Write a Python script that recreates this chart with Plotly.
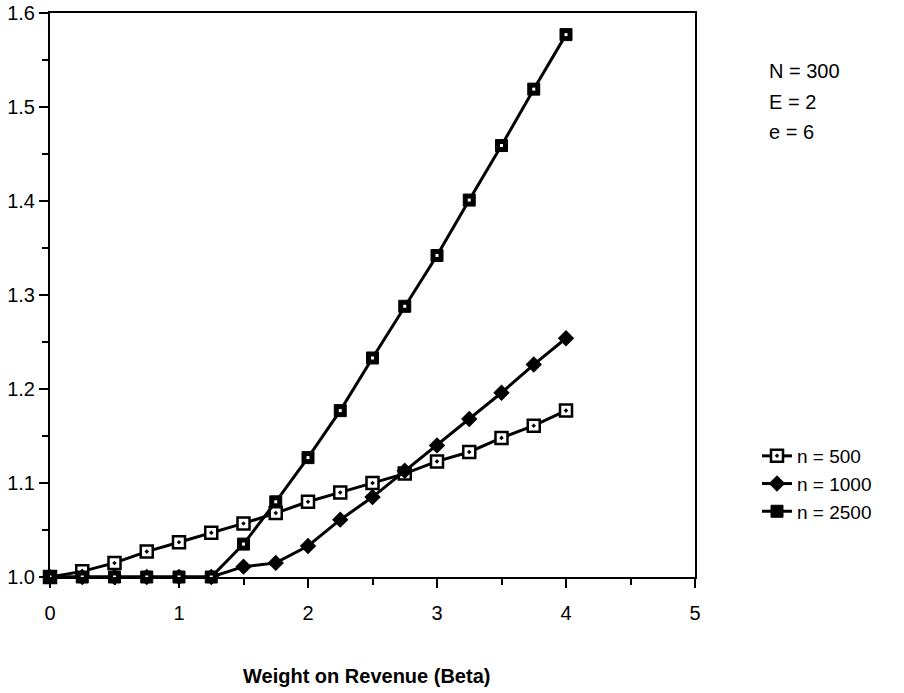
import plotly.graph_objects as go

# Weight on revenue (beta) values
beta = [0, 0.25, 0.5, 0.75, 1.0, 1.25, 1.5, 1.75, 2.0, 2.25, 2.5, 2.75, 3.0, 3.25, 3.5, 3.75, 4.0]

# Ratio for each sample size n
n500 = [1.000, 1.006, 1.015, 1.027, 1.037, 1.047, 1.057, 1.068, 1.080, 1.090, 1.100, 1.110, 1.123, 1.133, 1.148, 1.161, 1.177]
n1000 = [1.000, 1.000, 1.000, 1.000, 1.000, 1.000, 1.011, 1.015, 1.033, 1.061, 1.085, 1.113, 1.140, 1.168, 1.196, 1.226, 1.254]
n2500 = [1.000, 1.000, 1.000, 1.000, 1.000, 1.000, 1.035, 1.080, 1.127, 1.177, 1.233, 1.288, 1.342, 1.401, 1.459, 1.519, 1.577]

series_names = ["n = 500", "n = 1000", "n = 2500"]
param_lines = ["N = 300", "E = 2", "e = 6"]
x_ticks = [0, 1, 2, 3, 4, 5]
y_ticks = [1.0, 1.1, 1.2, 1.3, 1.4, 1.5, 1.6]
x_title = "Weight on Revenue (Beta)"

FONT = "Liberation Sans, Arial, Helvetica, sans-serif"
BLACK = "#000000"
FS = 20

L, R, T, B = 50, 209, 13, 116
W, H = 904, 693
pw, ph = W - L - R, H - T - B

fig = go.Figure()

fig.add_trace(go.Scatter(
    x=beta, y=n500, name=series_names[0], mode="lines+markers",
    legendgroup="a",
    line=dict(color=BLACK, width=3),
    marker=dict(symbol="square-dot", size=12, color="white",
                line=dict(color=BLACK, width=2.5)),
    cliponaxis=False,
))
fig.add_trace(go.Scatter(
    x=beta, y=n1000, name=series_names[1], mode="lines+markers",
    legendgroup="b",
    line=dict(color=BLACK, width=3),
    marker=dict(symbol="diamond", size=11, color=BLACK,
                line=dict(color=BLACK, width=1.5)),
    cliponaxis=False,
))
fig.add_trace(go.Scatter(
    x=beta, y=n2500, name=series_names[2], mode="lines+markers",
    legendgroup="c",
    line=dict(color=BLACK, width=3),
    marker=dict(symbol="square", size=12, color=BLACK,
                line=dict(color=BLACK, width=1)),
    cliponaxis=False,
))
# small white centre inside the solid squares
fig.add_trace(go.Scatter(
    x=beta, y=n2500, mode="markers", showlegend=False, hoverinfo="skip",
    marker=dict(symbol="square", size=3, color="white", line=dict(width=0)),
    cliponaxis=False,
))

# parameter block to the right of the plot
for i, txt in enumerate(param_lines):
    ypix = 71 + 30.5 * i
    fig.add_annotation(
        x=(767 - L) / pw, y=1 - (ypix - T) / ph, xref="paper", yref="paper",
        text=txt, showarrow=False, xanchor="left", yanchor="middle",
        font=dict(family=FONT, size=FS, color=BLACK),
    )

# x-axis title
fig.add_annotation(
    x=(366 - L) / pw, y=-(676 - (T + ph)) / ph, xref="paper", yref="paper",
    text="<b>" + x_title + "</b>", showarrow=False,
    xanchor="center", yanchor="middle",
    font=dict(family=FONT, size=FS, color=BLACK),
)

fig.update_layout(
    width=W, height=H,
    margin=dict(l=L, r=R, t=T, b=B),
    paper_bgcolor="white", plot_bgcolor="white",
    font=dict(family=FONT, size=FS, color=BLACK),
    showlegend=True,
    legend=dict(
        x=(757 - L) / pw, y=1 - (437 - T) / ph, xanchor="left", yanchor="top",
        xref="paper", yref="paper",
        bgcolor="rgba(0,0,0,0)", borderwidth=0,
        font=dict(family=FONT, size=19, color=BLACK),
        tracegroupgap=0,
    ),
)

fig.update_xaxes(
    range=[0, 5], tickvals=x_ticks, ticktext=[str(v) for v in x_ticks],
    showgrid=False, zeroline=False, automargin=False,
    showline=True, linecolor=BLACK, linewidth=2, mirror=True,
    ticks="outside", ticklen=9, tickwidth=2, tickcolor=BLACK,
    ticklabelstandoff=8,
    minor=dict(dtick=0.5, tick0=0, ticks="outside", ticklen=6, tickwidth=2,
               tickcolor=BLACK, showgrid=False),
)
fig.update_yaxes(
    range=[1.0, 1.6], tickvals=y_ticks, ticktext=[f"{v:.1f}" for v in y_ticks],
    showgrid=False, zeroline=False, automargin=False,
    showline=True, linecolor=BLACK, linewidth=2, mirror=True,
    ticks="outside", ticklen=9, tickwidth=2, tickcolor=BLACK,
    minor=dict(dtick=0.05, tick0=1.0, ticks="outside", ticklen=6, tickwidth=2,
               tickcolor=BLACK, showgrid=False),
)

fig.write_html("out.html")
